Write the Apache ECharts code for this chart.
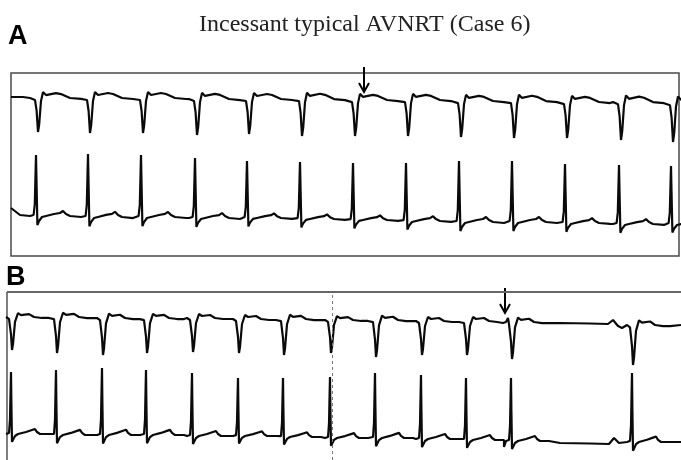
<!DOCTYPE html>
<html>
<head>
<meta charset="utf-8">
<script src="https://cdn.jsdelivr.net/npm/echarts@6/dist/echarts.min.js"></script>
<style>html,body{margin:0;padding:0;background:#fff}#c{width:681px;height:460px}</style>
</head>
<body>
<div id="c"></div>
<script>
// ---- text ----
const titleText = 'Incessant typical AVNRT (Case 6)';
const panelLabels = ['A', 'B'];

// ---- panel A (time in ms, amplitude in arbitrary units; baseline = 0) ----
const beatTimesA = [135, 395, 660, 930, 1190, 1455, 1720, 1985, 2250, 2515, 2780, 3050, 3310];
// upper lead: per-beat baseline drift and QRS depth
const baseA1 = [1, 1, 1, 0, 0, 0, -1, -1, -2, -2, -3, -3, -4];
const depthA1 = [35, 36, 36, 37, 36, 38, 37, 37, 37, 38, 37, 39, 40];
// lower lead: per-beat baseline drift and R height
const baseA2 = [2, 1, 1, 0, 0, -1, -2, -3, -4, -4, -5, -6, -6];
const heightA2 = [61, 63, 62, 60, 57, 57, 57, 58, 61, 61, 59, 59, 58];

// ---- panel B ----
const beatTimesB = [25, 250, 480, 700, 930, 1160, 1385, 1620, 1845, 2075, 2300, 2525, 3130];
const baseB1 = [1, 1, 0, 0, 0, -1, -1, -2, -2, -3, -3, -4, -7];
const depthB1 = [33, 36, 37, 35, 34, 34, 36, 33, 37, 34, 34, 37, 40];
const baseB2 = [2, 1, 1, 1, 0, 0, -1, -2, -2, -3, -4, -5, -6];
const heightB2 = [62, 65, 67, 65, 63, 58, 59, 61, 65, 64, 62, 63, 69];

// ---- beat waveforms: [ms from beat, amplitude] ----
const shapeA1 = [[-40,-1],[-15,-3],[-7,-14],[0,-36],[6,-28],[15,-4],[25,5],[40,2],[90,4],[115,3],[160,-1],[215,-2]];
const shapeA2 = [[-40,0],[-22,1],[-16,12],[-12,45],[-10,61],[-7,30],[-3,-9],[5,-5],[20,-1],[40,0],[80,2],[110,3],[125,5],[140,2],[160,0],[215,-1]];
const shapeB1 = [[-30,0],[-15,-2],[-5,-18],[0,-34],[5,-28],[15,-5],[30,4],[45,2],[85,3],[110,0],[150,-1],[185,-1]];
const shapeB2 = [[-30,0],[-15,1],[-10,15],[-7,45],[-5,63],[-3,30],[0,-8],[15,-2],[30,0],[70,2],[100,4],[115,5],[125,2],[140,0],[185,0]];

// ---- extra stretches (start of strip, P wave at arrow, pause) ----
const extraA1 = [[0, 1], [60, 1]];
const extraA2 = [[0, 10], [45, 3]];
const extraB1 = [[2480, -5], [2505, 0], [2765, -5], [2915, -5.5], [3005, -6], [3030, -2], [3055, -8], [3075, -10], [3370, -7]];
const extraB2 = [[2485, -11], [2765, -7], [2915, -7.5], [3010, -8], [3035, -2], [3060, -7], [3370, -6]];

// ---- annotations ----
const arrowA = { t: 1765, from: 31, to: 6 };
const arrowB = { t: 2490, from: 30, to: 5 };
const markerTimeB = 1625;

function trace(times, bases, amps, shape, extras) {
  const ref = Math.max.apply(null, shape.map(p => Math.abs(p[1])));
  const pts = [];
  times.forEach((t, i) => shape.forEach(p => pts.push([t + p[0], bases[i] + p[1] * amps[i] / ref])));
  extras.forEach(p => pts.push(p.slice()));
  pts.sort((a, b) => a[0] - b[0]);
  return pts;
}

const chart = echarts.init(document.getElementById('c'), null, { renderer: 'canvas' });
const lineStyle = { color: '#0a0a0a', width: 2.2 };
function ecg(data, xi, yi, extra) {
  return Object.assign({
    type: 'line', data: data, xAxisIndex: xi, yAxisIndex: yi,
    showSymbol: false, symbol: 'none', smooth: false, clip: true,
    lineStyle: lineStyle, silent: true, animation: false
  }, extra || {});
}

chart.setOption({
  animation: false,
  title: [
    { text: titleText, left: 199, top: 13, padding: 0,
      textStyle: { fontFamily: 'Liberation Serif', fontSize: 24, fontWeight: 'normal', color: '#222' } },
    { text: panelLabels[0], left: 8, top: 23, padding: 0,
      textStyle: { fontFamily: 'Liberation Sans', fontSize: 27, fontWeight: 'bold', color: '#000' } },
    { text: panelLabels[1], left: 6, top: 264, padding: 0,
      textStyle: { fontFamily: 'Liberation Sans', fontSize: 27, fontWeight: 'bold', color: '#000' } }
  ],
  grid: [
    { left: 11, top: 73, width: 668, height: 183, show: true, borderColor: '#4a4a4a', borderWidth: 1.5, backgroundColor: 'transparent' },
    { left: 7, top: 292, width: 674, height: 168, show: false }
  ],
  xAxis: [
    { type: 'value', gridIndex: 0, min: 0, max: 3340, show: false },
    { type: 'value', gridIndex: 1, min: 0, max: 3370, show: false }
  ],
  yAxis: [
    { type: 'value', gridIndex: 0, min: -158, max: 25, show: false },
    { type: 'value', gridIndex: 0, min: -38, max: 145, show: false },
    { type: 'value', gridIndex: 1, min: -142, max: 26, show: false },
    { type: 'value', gridIndex: 1, min: -24, max: 144, show: false }
  ],
  series: [
    ecg(trace(beatTimesA, baseA1, depthA1, shapeA1, extraA1), 0, 0),
    ecg(trace(beatTimesA, baseA2, heightA2, shapeA2, extraA2), 0, 1),
    ecg(trace(beatTimesB, baseB1, depthB1, shapeB1, extraB1), 1, 2, {
      markLine: { silent: true, symbol: ['none', 'none'], label: { show: false },
        lineStyle: { type: [3, 3], color: '#777', width: 1 }, data: [{ xAxis: markerTimeB }] }
    }),
    ecg(trace(beatTimesB, baseB2, heightB2, shapeB2, extraB2), 1, 3)
  ]
});

function arrow(seriesIndex, a) {
  const p1 = chart.convertToPixel({ seriesIndex: seriesIndex }, [a.t, a.from]);
  const p2 = chart.convertToPixel({ seriesIndex: seriesIndex }, [a.t, a.to]);
  return [
    { type: 'line', silent: true, shape: { x1: p1[0], y1: p1[1], x2: p2[0], y2: p2[1] }, style: { stroke: '#000', lineWidth: 2 } },
    { type: 'polyline', silent: true, shape: { points: [[p2[0] - 5, p2[1] - 9], [p2[0], p2[1]], [p2[0] + 5, p2[1] - 9]] }, style: { stroke: '#000', lineWidth: 2, fill: null } }
  ];
}
// open-ended frame of panel B (top and left edges only; the strip runs off the page)
const bTL = chart.convertToPixel({ seriesIndex: 2 }, [0, 26]);
const bBR = chart.convertToPixel({ seriesIndex: 2 }, [3370, -142]);
const frameB = [
  { type: 'line', silent: true, z: 1, shape: { x1: bTL[0], y1: bTL[1], x2: bBR[0] + 5, y2: bTL[1] }, style: { stroke: '#666', lineWidth: 2 } },
  { type: 'line', silent: true, z: 1, shape: { x1: bTL[0], y1: bTL[1], x2: bTL[0], y2: bBR[1] + 5 }, style: { stroke: '#555', lineWidth: 1.5 } }
];
chart.setOption({ graphic: arrow(0, arrowA).concat(arrow(2, arrowB)).concat(frameB) });
</script>
</body>
</html>
